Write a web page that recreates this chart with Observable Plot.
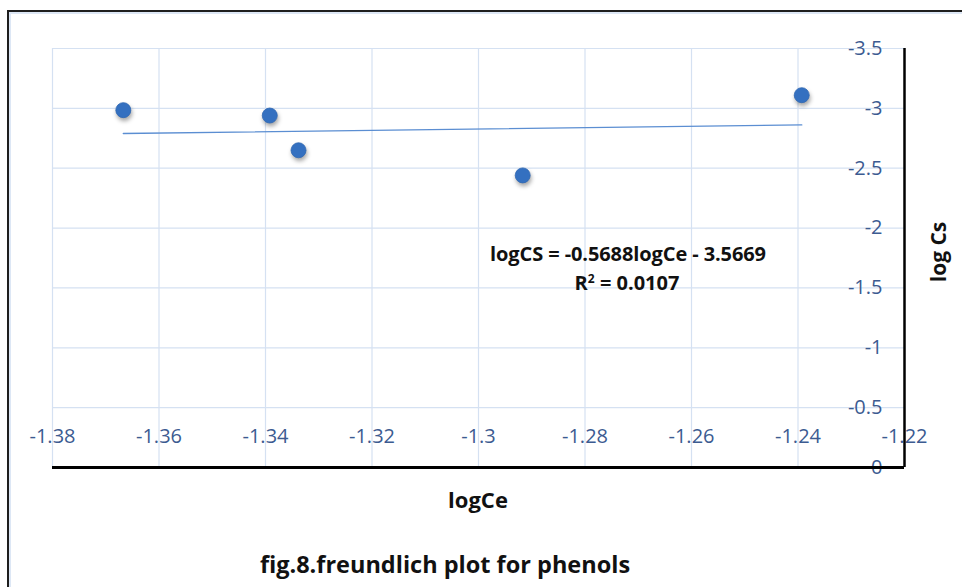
<!DOCTYPE html>
<html>
<head>
<meta charset="utf-8">
<script src="https://cdn.jsdelivr.net/npm/d3@7"></script>
<script src="https://cdn.jsdelivr.net/npm/@observablehq/plot@0.6"></script>
<style>
  html, body { margin: 0; padding: 0; background: #fff; }
  #wrap { position: relative; width: 962px; height: 587px; overflow: hidden; background: #fff; font-family: "Open Sans", sans-serif; }
  #frame { position: absolute; left: 7px; top: 10px; width: 1000px; height: 620px;
           border-top: 2px solid #1e1e1e; border-left: 2px solid #1e1e1e;
           box-shadow: inset 2px 2px 0 #dde7f5; }
  #chart { position: absolute; left: 0; top: 0; }
  .lbl { position: absolute; font-weight: 700; color: #111; white-space: nowrap; transform: translate(-50%, -50%); }
</style>
</head>
<body>
<div id="wrap">
  <div id="frame"></div>
  <div id="chart"></div>
  <div class="lbl" style="left:628px; top:253px; font-size:20px; letter-spacing:-0.1px;">logCS = -0.5688logCe - 3.5669</div>
  <div class="lbl" style="left:627px; top:282px; font-size:20px;">R<sup style="font-size:12px; vertical-align: 7px; line-height:0;">2</sup> = 0.0107</div>
  <div class="lbl" style="left:478px; top:499px; font-size:22px;">logCe</div>
  <div class="lbl" style="left:938px; top:252px; font-size:21px; transform: translate(-50%, -50%) rotate(-90deg);">log Cs</div>
  <div class="lbl" style="left:445px; top:564px; font-size:23.5px;">fig.8.freundlich plot for phenols</div>
</div>
<script>
// ---- data ----
const xTicks = [-1.38, -1.36, -1.34, -1.32, -1.30, -1.28, -1.26, -1.24, -1.22];
const xTickLabels = ["-1.38", "-1.36", "-1.34", "-1.32", "-1.3", "-1.28", "-1.26", "-1.24", "-1.22"];
const yTicks = [0, -0.5, -1, -1.5, -2, -2.5, -3, -3.5];
const yTickLabels = ["0", "-0.5", "-1", "-1.5", "-2", "-2.5", "-3", "-3.5"];
const logCe = [-1.3667, -1.3392, -1.3338, -1.2917, -1.2393];
const logCs = [-2.985, -2.94, -2.65, -2.44, -3.11];
const trendSlope = [-0.5688];
const trendIntercept = [-3.5669];

// ---- derived ----
const xExtent = d3.extent(logCe);
const trend = xExtent.map(x => ({x, y: trendSlope[0] * x + trendIntercept[0]}));
const gridX = xTicks.slice(0, -1);
const gridY = yTicks.slice(1);
const tickColor = "#3c5b91";
const gridColor = "#d5e1f2";

const plot = Plot.plot({
  width: 962,
  height: 587,
  marginLeft: 52,
  marginRight: 58,
  marginTop: 48,
  marginBottom: 120,
  style: {fontFamily: "Open Sans, sans-serif", background: "transparent", overflow: "visible"},
  x: {domain: [xTicks[0], xTicks[xTicks.length - 1]], axis: null},
  y: {domain: [yTicks[0], yTicks[yTicks.length - 1]], axis: null},
  marks: [
    Plot.ruleX(gridX, {x: d => d, y1: yTicks[0], y2: yTicks[yTicks.length - 1], stroke: gridColor, strokeWidth: 1.2}),
    Plot.ruleY(gridY, {y: d => d, x1: xTicks[0], x2: xTicks[xTicks.length - 1], stroke: gridColor, strokeWidth: 1.2}),
    Plot.text(xTickLabels, {x: xTicks, y: yTicks[0], text: d => d, dy: -31, fontSize: 20, fill: tickColor}),
    Plot.text(yTickLabels, {x: xTicks[xTicks.length - 1], y: yTicks, text: d => d, textAnchor: "end", dx: -22, fontSize: 20, fill: tickColor}),
    Plot.ruleY([yTicks[0]], {x1: xTicks[0], x2: xTicks[xTicks.length - 1], stroke: "#000", strokeWidth: 3}),
    Plot.ruleX([xTicks[xTicks.length - 1]], {y1: yTicks[0], y2: yTicks[yTicks.length - 1], stroke: "#000", strokeWidth: 2.5}),
    Plot.line(trend, {x: "x", y: "y", stroke: "#5b8ed2", strokeWidth: 1.4}),
    Plot.dot(logCe, {x: logCe, y: logCs, r: 7.5, fill: "#3470c0", stroke: "#2f67b3", strokeWidth: 0.8})
  ]
});

plot.querySelectorAll('g[aria-label="dot"] circle').forEach(c => {
  c.style.filter = "drop-shadow(1px 3px 2px rgba(0,0,0,0.35))";
});
document.getElementById("chart").appendChild(plot);
</script>
</body>
</html>
